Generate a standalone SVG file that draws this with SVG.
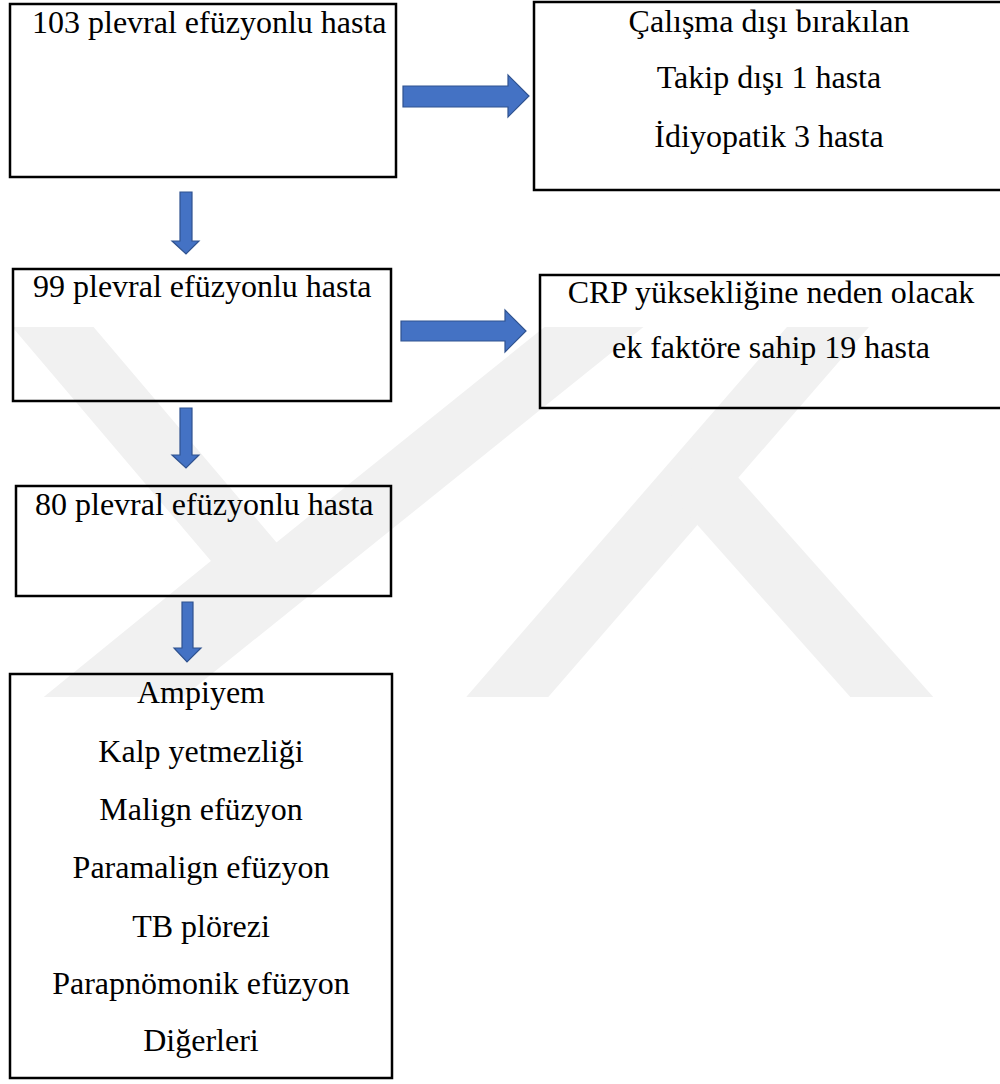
<svg xmlns="http://www.w3.org/2000/svg" width="1000" height="1084" viewBox="0 0 1000 1084">
<style>
.box{fill:none;stroke:#000;stroke-width:2.5}
.t{font-family:"Liberation Serif","Times New Roman",serif;font-size:32px;fill:#000}
.c{text-anchor:middle}
.arr{fill:#4472C4;stroke:#2F528F;stroke-width:1.2;stroke-linejoin:miter}
.wm{fill:none;stroke:#F1F1F1;stroke-width:62;stroke-linejoin:miter;stroke-miterlimit:10}
</style>
<defs>
<clipPath id="wmclip"><rect x="0" y="327" width="1000" height="370"/></clipPath>
</defs>
<rect width="1000" height="1084" fill="#fff"/>
<g id="watermark" clip-path="url(#wmclip)">
<polyline class="wm" points="30,300 255,565 40,740"/>
<line class="wm" x1="640" y1="290" x2="80" y2="740"/>
<line class="wm" x1="860" y1="290" x2="470" y2="740"/>
<line class="wm" x1="690" y1="470" x2="930" y2="740"/>
</g>
<g id="connectors">
<polygon class="arr" points="403,86 508,86 508,75 529,96 508,117 508,107 403,107"/>
<polygon class="arr" points="401,321 505,321 505,310 526,331 505,352 505,341 401,341"/>
<polygon class="arr" points="180,192 192,192 192,241 199,241 186,254 172,241 180,241"/>
<polygon class="arr" points="180,408 192,408 192,455 199,455 186,468 172,455 180,455"/>
<polygon class="arr" points="182,602 193,602 193,648 201,648 187,662 174,648 182,648"/>
</g>
<g id="node1">
<rect class="box" x="10" y="4" width="386" height="173"/>
<text class="t" x="32" y="33">103 plevral efüzyonlu hasta</text>
</g>
<g id="node2">
<rect class="box" x="534" y="2" width="470" height="188"/>
<text class="t c" x="769" y="32">Çalışma dışı bırakılan</text>
<text class="t c" x="769" y="88">Takip dışı 1 hasta</text>
<text class="t c" x="769" y="147">İdiyopatik 3 hasta</text>
</g>
<g id="node3">
<rect class="box" x="13" y="269" width="378" height="132"/>
<text class="t" x="33" y="297">99 plevral efüzyonlu hasta</text>
</g>
<g id="node4">
<rect class="box" x="540" y="275" width="464" height="133"/>
<text class="t c" x="771" y="303">CRP yüksekliğine neden olacak</text>
<text class="t c" x="771" y="358">ek faktöre sahip 19 hasta</text>
</g>
<g id="node5">
<rect class="box" x="16" y="486" width="375" height="110"/>
<text class="t" x="35" y="515">80 plevral efüzyonlu hasta</text>
</g>
<g id="node6">
<rect class="box" x="10" y="674" width="382" height="404"/>
<text class="t c" x="201" y="703">Ampiyem</text>
<text class="t c" x="201" y="762">Kalp yetmezliği</text>
<text class="t c" x="201" y="820">Malign efüzyon</text>
<text class="t c" x="201" y="878">Paramalign efüzyon</text>
<text class="t c" x="201" y="937">TB plörezi</text>
<text class="t c" x="201" y="994">Parapnömonik efüzyon</text>
<text class="t c" x="201" y="1051">Diğerleri</text>
</g>
</svg>
